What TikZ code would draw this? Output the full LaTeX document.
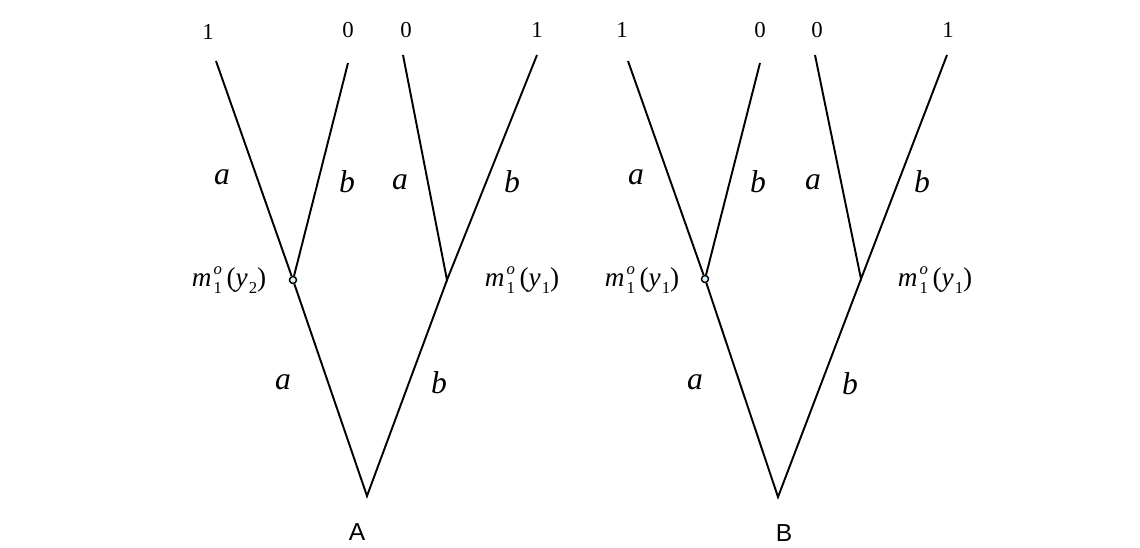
\documentclass[tikz,border=0pt]{standalone}
\usepackage{fontspec}
\setmainfont{Liberation Serif}
\newfontfamily\treefont{Liberation Sans}
\usetikzlibrary{positioning}

\newcommand{\scrfont}{\fontsize{9.5}{9.5}\selectfont}
\newcommand{\mlab}[1]{\textit{m}\kern0.08em\makebox[0pt][l]{\raisebox{0.42em}{\scrfont\itshape o}}\raisebox{-0.25em}{\scrfont 1}\,(\textit{y}\kern0.04em\raisebox{-0.25em}{\scrfont #1})}

\tikzset{
  branch/.style={line width=1.1pt},
  joint/.style={circle, draw, line width=0.8pt, fill=cyan!15, minimum size=4pt, inner sep=0pt},
  leaflabel/.style={font=\fontsize{13}{13}\selectfont, inner sep=0pt},
  edgelabel/.style={font=\fontsize{18}{18}\selectfont\itshape, inner sep=0pt},
  mlabel/.style={font=\fontsize{15.5}{15.5}\selectfont, inner sep=0pt},
  treelabel/.style={font=\fontsize{14}{14}\selectfont\treefont, inner sep=0pt}
}

\begin{document}
\begin{tikzpicture}[x=0.02cm, y=-0.02cm]
    \useasboundingbox (0,0) rectangle (1140,548);

    % Tree A
    \coordinate (rootA) at (367,496);
    \node[joint] (leftA) at (293,280) {};
    \coordinate (rightA) at (447,280);
    \coordinate (leafAa) at (216,61);
    \coordinate (leafAb) at (348,63);
    \coordinate (leafAc) at (403,55);
    \coordinate (leafAd) at (537,55);
    \draw[branch] (leftA) -- (rootA) -- (rightA);
    \draw[branch] (leafAa) -- (leftA) -- (leafAb);
    \draw[branch] (leafAc) -- (rightA) -- (leafAd);

    \node[leaflabel] (numAa) at (208,32) {1};
    \node[leaflabel] (numAb) at (348,30) {0};
    \node[leaflabel] (numAc) at (406,30) {0};
    \node[leaflabel] (numAd) at (537,30) {1};

    \node[edgelabel] at (222,177) {a};
    \node[edgelabel] at (347,182) {b};
    \node[edgelabel] at (400,182) {a};
    \node[edgelabel] at (512,182) {b};
    \node[edgelabel] at (283,382) {a};
    \node[edgelabel] at (439,383) {b};

    \node[mlabel] (mAl) at (229,280) {\mlab{2}};
    \node[mlabel] (mAr) at (522,280) {\mlab{1}};
    \node[treelabel] (titleA) at (357,532) {A};

    % Tree B
    \coordinate (rootB) at (778,497);
    \node[joint] (leftB) at (705,279) {};
    \coordinate (rightB) at (861,279);
    \coordinate (leafBa) at (628,61);
    \coordinate (leafBb) at (760,63);
    \coordinate (leafBc) at (815,55);
    \coordinate (leafBd) at (947,55);
    \draw[branch] (leftB) -- (rootB) -- (rightB);
    \draw[branch] (leafBa) -- (leftB) -- (leafBb);
    \draw[branch] (leafBc) -- (rightB) -- (leafBd);

    \node[leaflabel] (numBa) at (622,30) {1};
    \node[leaflabel] (numBb) at (760,30) {0};
    \node[leaflabel] (numBc) at (817,30) {0};
    \node[leaflabel] (numBd) at (948,30) {1};

    \node[edgelabel] at (636,177) {a};
    \node[edgelabel] at (758,182) {b};
    \node[edgelabel] at (813,182) {a};
    \node[edgelabel] at (922,182) {b};
    \node[edgelabel] at (695,382) {a};
    \node[edgelabel] at (850,384) {b};

    \node[mlabel] (mBl) at (642,280) {\mlab{1}};
    \node[mlabel] (mBr) at (935,280) {\mlab{1}};
    \node[treelabel] (titleB) at (784,533) {B};
\end{tikzpicture}
\end{document}
